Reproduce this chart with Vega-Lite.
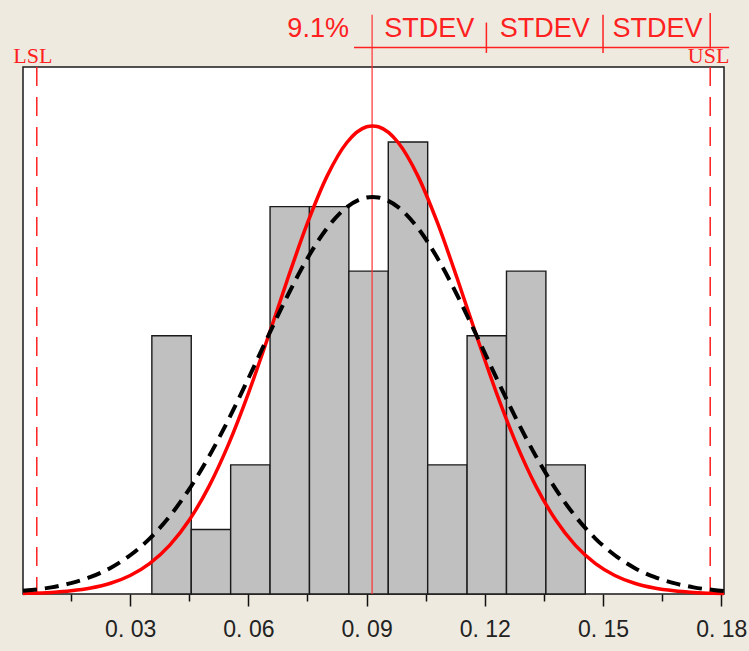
{
  "$schema": "https://vega.github.io/schema/vega-lite/v6.json",
  "width": 701,
  "height": 527,
  "autosize": {"type": "none"},
  "padding": {"left": 23, "top": 67, "right": 25, "bottom": 57},
  "background": "#EEEAE0",
  "config": {"view": {"stroke": "#1a1a1a", "strokeWidth": 1.5, "fill": "white"}},
  "datasets": {
    "bars": [
      {"x0": 0.0355, "x1": 0.0455, "n": 4},
      {"x0": 0.0455, "x1": 0.0555, "n": 1},
      {"x0": 0.0555, "x1": 0.0655, "n": 2},
      {"x0": 0.0655, "x1": 0.0755, "n": 6},
      {"x0": 0.0755, "x1": 0.0855, "n": 6},
      {"x0": 0.0855, "x1": 0.0955, "n": 5},
      {"x0": 0.0955, "x1": 0.1055, "n": 7},
      {"x0": 0.1055, "x1": 0.1155, "n": 2},
      {"x0": 0.1155, "x1": 0.1255, "n": 4},
      {"x0": 0.1255, "x1": 0.1355, "n": 5},
      {"x0": 0.1355, "x1": 0.1455, "n": 2}
    ],
    "within": [
      {"x": 0.0028, "y": 0.009}, {"x": 0.005, "y": 0.012}, {"x": 0.010, "y": 0.025},
      {"x": 0.015, "y": 0.049}, {"x": 0.020, "y": 0.092}, {"x": 0.025, "y": 0.166},
      {"x": 0.030, "y": 0.287}, {"x": 0.035, "y": 0.475}, {"x": 0.040, "y": 0.753},
      {"x": 0.045, "y": 1.145}, {"x": 0.050, "y": 1.667}, {"x": 0.055, "y": 2.325},
      {"x": 0.060, "y": 3.108}, {"x": 0.065, "y": 3.980}, {"x": 0.070, "y": 4.886},
      {"x": 0.075, "y": 5.746}, {"x": 0.080, "y": 6.476}, {"x": 0.085, "y": 6.993},
      {"x": 0.090, "y": 7.236}, {"x": 0.0915, "y": 7.25}, {"x": 0.093, "y": 7.236},
      {"x": 0.098, "y": 6.993}, {"x": 0.103, "y": 6.476}, {"x": 0.108, "y": 5.746},
      {"x": 0.113, "y": 4.886}, {"x": 0.118, "y": 3.980}, {"x": 0.123, "y": 3.108},
      {"x": 0.128, "y": 2.325}, {"x": 0.133, "y": 1.667}, {"x": 0.138, "y": 1.145},
      {"x": 0.143, "y": 0.753}, {"x": 0.148, "y": 0.475}, {"x": 0.153, "y": 0.287},
      {"x": 0.158, "y": 0.166}, {"x": 0.163, "y": 0.092}, {"x": 0.168, "y": 0.049},
      {"x": 0.173, "y": 0.025}, {"x": 0.178, "y": 0.012}, {"x": 0.1807, "y": 0.008}
    ],
    "overall": [
      {"x": 0.0028, "y": 0.050}, {"x": 0.005, "y": 0.062}, {"x": 0.010, "y": 0.103},
      {"x": 0.015, "y": 0.168}, {"x": 0.020, "y": 0.264}, {"x": 0.025, "y": 0.404},
      {"x": 0.030, "y": 0.600}, {"x": 0.035, "y": 0.862}, {"x": 0.040, "y": 1.202},
      {"x": 0.045, "y": 1.625}, {"x": 0.050, "y": 2.130}, {"x": 0.055, "y": 2.708},
      {"x": 0.060, "y": 3.339}, {"x": 0.065, "y": 3.992}, {"x": 0.070, "y": 4.627},
      {"x": 0.075, "y": 5.201}, {"x": 0.080, "y": 5.669}, {"x": 0.085, "y": 5.992},
      {"x": 0.090, "y": 6.141}, {"x": 0.0915, "y": 6.15}, {"x": 0.093, "y": 6.141},
      {"x": 0.098, "y": 5.992}, {"x": 0.103, "y": 5.669}, {"x": 0.108, "y": 5.201},
      {"x": 0.113, "y": 4.627}, {"x": 0.118, "y": 3.992}, {"x": 0.123, "y": 3.339},
      {"x": 0.128, "y": 2.708}, {"x": 0.133, "y": 2.130}, {"x": 0.138, "y": 1.625},
      {"x": 0.143, "y": 1.202}, {"x": 0.148, "y": 0.862}, {"x": 0.153, "y": 0.600},
      {"x": 0.158, "y": 0.404}, {"x": 0.163, "y": 0.264}, {"x": 0.168, "y": 0.168},
      {"x": 0.173, "y": 0.103}, {"x": 0.178, "y": 0.062}, {"x": 0.1807, "y": 0.046}
    ],
    "limits": [{"x": 0.0063, "label": "LSL", "lx": 0.0053}, {"x": 0.1772, "label": "USL", "lx": 0.1768}],
    "mean": [{"x": 0.0914, "y": 0, "y2": 8.97}],
    "scaleline": [{"x": 0.0868, "x2": 0.182, "y": 8.465}],
    "sdticks": [
      {"x": 0.1204, "y": 8.38, "y2": 8.85},
      {"x": 0.1500, "y": 8.38, "y2": 8.97},
      {"x": 0.1772, "y": 8.45, "y2": 9.0}
    ],
    "toptext": [
      {"x": 0.0777, "y": 8.62, "t": "9.1%"},
      {"x": 0.1059, "y": 8.62, "t": "STDEV"},
      {"x": 0.1352, "y": 8.62, "t": "STDEV"},
      {"x": 0.1638, "y": 8.62, "t": "STDEV"}
    ]
  },
  "resolve": {"axis": {"x": "independent"}},
  "layer": [
    {
      "data": {"name": "bars"},
      "mark": {"type": "rect", "fill": "#C0C0C0", "stroke": "#1a1a1a", "strokeWidth": 1.4},
      "encoding": {
        "x": {"field": "x0", "type": "quantitative",
          "scale": {"domain": [0.0028, 0.1807], "nice": false, "zero": false},
          "axis": {"orient": "bottom", "values": [0.03, 0.06, 0.09, 0.12, 0.15, 0.18],
            "labelExpr": "'0. ' + substring(format(datum.value, '.2f'), 2)",
            "grid": false, "domain": false, "tickSize": 12, "tickColor": "#111", "tickWidth": 1.5,
            "labelFont": "Liberation Sans", "labelFontSize": 23, "labelColor": "#222",
            "labelPadding": 12, "labelFlush": false, "labelOverlap": false, "title": null}},
        "x2": {"field": "x1"},
        "y": {"field": "n", "type": "quantitative", "scale": {"domain": [0, 8.162], "nice": false}, "axis": null},
        "y2": {"datum": 0}
      }
    },
    {
      "data": {"name": "limits"},
      "mark": {"type": "rule", "color": "#FF2020", "strokeWidth": 1.5, "strokeDash": [19, 11]},
      "encoding": {
        "x": {"field": "x", "type": "quantitative",
          "scale": {"domain": [0.0028, 0.1807], "nice": false, "zero": false},
          "axis": {"orient": "bottom", "values": [0.015, 0.045, 0.075, 0.105, 0.135, 0.165],
            "labels": false, "grid": false, "domain": false, "tickSize": 7,
            "tickColor": "#111", "tickWidth": 1.5, "title": null}}
      }
    },
    {
      "data": {"name": "mean"},
      "mark": {"type": "rule", "color": "#FF3030", "opacity": 0.8, "strokeWidth": 1.5},
      "encoding": {
        "x": {"field": "x", "type": "quantitative", "scale": {"domain": [0.0028, 0.1807], "nice": false, "zero": false}, "axis": null},
        "y": {"field": "y", "type": "quantitative", "scale": {"domain": [0, 8.162], "nice": false}, "axis": null},
        "y2": {"field": "y2"}
      }
    },
    {
      "data": {"name": "within"},
      "mark": {"type": "line", "color": "#FF0000", "strokeWidth": 3.5, "interpolate": "monotone"},
      "encoding": {
        "x": {"field": "x", "type": "quantitative", "scale": {"domain": [0.0028, 0.1807], "nice": false, "zero": false}, "axis": null},
        "y": {"field": "y", "type": "quantitative", "scale": {"domain": [0, 8.162], "nice": false}, "axis": null}
      }
    },
    {
      "data": {"name": "overall"},
      "mark": {"type": "line", "color": "#000000", "strokeWidth": 4, "strokeDash": [14, 8], "strokeCap": "butt", "interpolate": "monotone"},
      "encoding": {
        "x": {"field": "x", "type": "quantitative", "scale": {"domain": [0.0028, 0.1807], "nice": false, "zero": false}, "axis": null},
        "y": {"field": "y", "type": "quantitative", "scale": {"domain": [0, 8.162], "nice": false}, "axis": null}
      }
    },
    {
      "data": {"name": "scaleline"},
      "mark": {"type": "rule", "color": "#FF2020", "strokeWidth": 1.5},
      "encoding": {
        "x": {"field": "x", "type": "quantitative", "scale": {"domain": [0.0028, 0.1807], "nice": false, "zero": false}, "axis": null},
        "x2": {"field": "x2"},
        "y": {"field": "y", "type": "quantitative", "scale": {"domain": [0, 8.162], "nice": false}, "axis": null}
      }
    },
    {
      "data": {"name": "sdticks"},
      "mark": {"type": "rule", "color": "#FF2020", "strokeWidth": 1.5},
      "encoding": {
        "x": {"field": "x", "type": "quantitative", "scale": {"domain": [0.0028, 0.1807], "nice": false, "zero": false}, "axis": null},
        "y": {"field": "y", "type": "quantitative", "scale": {"domain": [0, 8.162], "nice": false}, "axis": null},
        "y2": {"field": "y2"}
      }
    },
    {
      "data": {"name": "toptext"},
      "mark": {"type": "text", "color": "#FF2020", "font": "Liberation Sans", "fontSize": 27, "align": "center", "baseline": "alphabetic"},
      "encoding": {
        "x": {"field": "x", "type": "quantitative", "scale": {"domain": [0.0028, 0.1807], "nice": false, "zero": false}, "axis": null},
        "y": {"field": "y", "type": "quantitative", "scale": {"domain": [0, 8.162], "nice": false}, "axis": null},
        "text": {"field": "t"}
      }
    },
    {
      "data": {"name": "limits"},
      "mark": {"type": "text", "color": "#FF2020", "font": "Liberation Serif", "fontSize": 22, "align": "center", "baseline": "alphabetic"},
      "encoding": {
        "x": {"field": "lx", "type": "quantitative", "scale": {"domain": [0.0028, 0.1807], "nice": false, "zero": false}, "axis": null},
        "y": {"datum": 8.228, "type": "quantitative", "scale": {"domain": [0, 8.162], "nice": false}, "axis": null},
        "text": {"field": "label"}
      }
    }
  ]
}
